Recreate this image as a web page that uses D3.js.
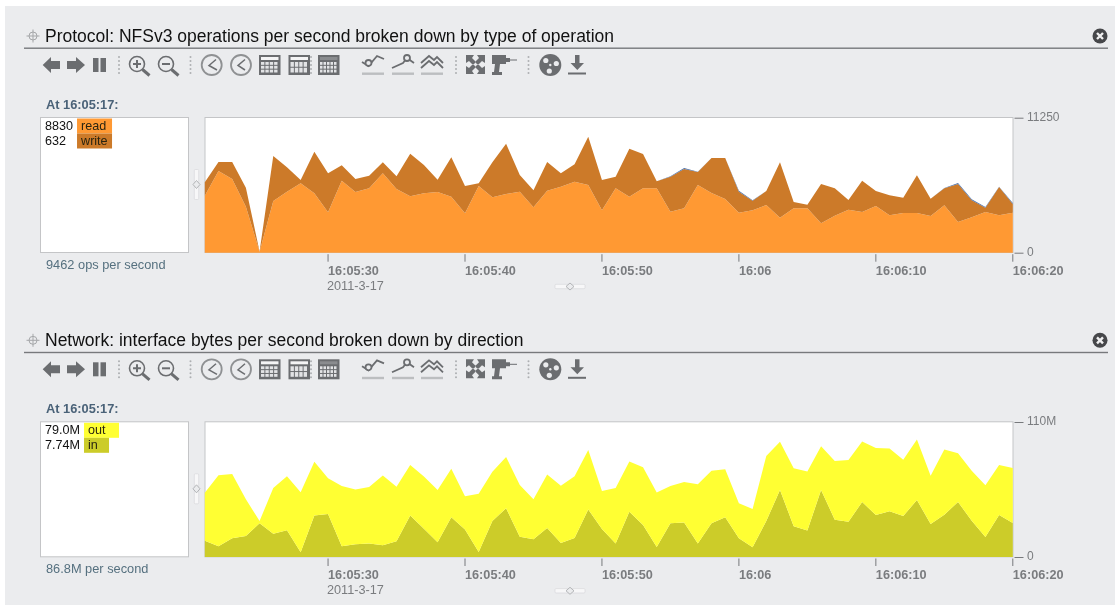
<!DOCTYPE html>
<html>
<head>
<meta charset="utf-8">
<script src="https://cdnjs.cloudflare.com/ajax/libs/d3/7.8.5/d3.min.js"></script>
<style>
html, body { margin: 0; padding: 0; background: #fff; }
svg { display: block; font-family: "Liberation Sans", Arial, sans-serif; filter: blur(0.5px); }
</style>
</head>
<body>
<svg id="chart" width="1116" height="605"></svg>
<script>
// one reading per second, 16:05:21 to 16:06:20
const startTime = new Date(2011, 2, 17, 16, 5, 21);
const secondCount = 60;

const readOps = [4750,6806,6139,3834,80,4306,5084,5778,4945,3361,6000,5056,5361,6612,5306,4695,4945,5056,4667,3278,5556,4611,4889,5084,3778,5167,5500,5917,5639,3528,5361,4667,5361,5361,3417,3695,5639,4973,4473,3334,3528,3973,2917,3695,3695,2445,3084,3584,3389,3889,3111,3306,3306,3056,3945,2556,2945,3389,3111,3334];
const writeOps = [1111,750,1417,1583,30,3750,2028,278,3473,3250,1278,1083,1056,917,1056,3556,2361,1028,3278,2278,222,2917,4195,1389,1417,2389,1111,1445,4028,2528,972,4000,2861,583,2917,3278,1083,2917,3417,1750,806,1167,4611,528,306,3278,2278,806,2611,1250,1667,1278,3139,1445,1417,3167,1417,361,2361,722];
const otherOps = [0,0,0,0,0,0,0,0,0,0,0,0,0,0,0,0,0,0,0,0,0,0,0,0,0,0,0,0,0,0,0,0,0,0,30,90,20,0,0,70,30,0,0,0,0,0,0,0,0,0,0,0,0,0,30,90,90,50,30,90];

const bytesIn = [13.3,8.7,15.2,17.1,27.4,19.0,21.7,3.8,33.9,35.0,8.7,10.3,11.1,9.5,12.8,33.9,23.1,12.0,32.3,22.5,4.1,29.3,39.7,16.6,14.4,23.6,11.4,15.5,38.8,22.8,10.9,36.9,26.1,8.1,27.4,28.2,10.9,27.4,32.3,15.2,7.9,29.3,54.6,25.0,21.5,54.6,30.4,28.8,44.8,34.2,37.2,33.4,46.4,26.9,34.5,44.8,29.6,16.3,34.2,27.7];
const bytesOut = [39.1,57.9,52.4,29.9,1.9,37.2,44.0,48.9,43.7,29.1,49.2,44.8,45.9,57.0,44.5,41.0,42.4,42.6,39.7,26.9,47.5,40.2,41.8,42.1,32.6,43.7,46.7,50.2,48.3,31.0,45.4,41.0,47.0,44.5,30.4,32.9,48.3,42.9,39.1,28.5,31.2,53.0,39.4,47.3,48.1,35.6,47.8,50.2,49.4,54.6,51.3,45.9,49.4,39.4,53.0,39.7,40.7,42.1,40.7,44.8];

const timeTicks = ["16:05:30","16:05:40","16:05:50","16:06","16:06:10","16:06:20"];

const panels = [
  {
    top: 0,
    title: "Protocol: NFSv3 operations per second broken down by type of operation",
    maxValue: 11250,
    maxLabel: "11250",
    layers: [
      { name: "read", values: readOps, color: "#ff9933" },
      { name: "write", values: writeOps, color: "#cc7a29" },
      { name: "other", values: otherOps, color: "#4a6fa8" }
    ],
    legend: [
      { name: "read", shown: "8830", color: "#ff9933" },
      { name: "write", shown: "632", color: "#cc7a29" }
    ],
    total: "9462 ops per second"
  },
  {
    top: 304.3,
    title: "Network: interface bytes per second broken down by direction",
    maxValue: 110,
    maxLabel: "110M",
    layers: [
      { name: "in", values: bytesIn, color: "#cccc29" },
      { name: "out", values: bytesOut, color: "#ffff33" }
    ],
    legend: [
      { name: "out", shown: "79.0M", color: "#ffff33" },
      { name: "in", shown: "7.74M", color: "#cccc29" }
    ],
    total: "86.8M per second"
  }
];

const svg = d3.select("#chart");
const iconColor = "#6b6d70";
const panelBg = "#ebecee";

svg.append("rect").attr("x", 5).attr("y", 6).attr("width", 1110).attr("height", 599).attr("fill", panelBg);

const x = d3.scaleTime()
  .domain([startTime, d3.timeSecond.offset(startTime, secondCount - 1)])
  .range([204.8, 1012.8]);

panels.forEach(drawPanel);

function drawPanel(p) {
  const g = svg.append("g").attr("transform", "translate(0," + p.top + ")");

  // header
  moveIcon(g.append("g").attr("transform", "translate(33,36)"));
  g.append("text").attr("x", 45).attr("y", 41.5).attr("font-size", 17.5).attr("fill", "#111").text(p.title);
  g.append("rect").attr("x", 24).attr("y", 47.5).attr("width", 1084).attr("height", 1.4).attr("fill", "#77797c");
  closeIcon(g.append("g").attr("transform", "translate(1100,36)"));

  drawToolbar(g);

  g.append("text").attr("x", 46).attr("y", 108.5).attr("font-size", 12.8).attr("font-weight", "bold")
    .attr("fill", "#4a6278").text("At 16:05:17:");

  // legend box
  g.append("rect").attr("x", 40.5).attr("y", 117.5).attr("width", 148).attr("height", 135)
    .attr("fill", "#fff").attr("stroke", "#c4c5c7");
  const valueTexts = p.legend.map((d, i) =>
    g.append("text").attr("x", 45).attr("y", 130 + i * 15).attr("font-size", 12.6).attr("fill", "#111").text(d.shown));
  const swatchX = 45 + d3.max(valueTexts, t => t.node().getComputedTextLength()) + 4;
  p.legend.forEach((d, i) => {
    const rowY = 118.5 + i * 15;
    g.append("rect").attr("x", swatchX).attr("y", rowY).attr("width", d.name === "in" ? 25 : 35).attr("height", 15).attr("fill", d.color);
    g.append("text").attr("x", swatchX + 4).attr("y", rowY + 11.5).attr("font-size", 12.6).attr("fill", "#2a2410").text(d.name);
  });
  g.append("text").attr("x", 46).attr("y", 269).attr("font-size", 12.8).attr("fill", "#55707f").text(p.total);

  drawHandle(g, 196.5, 184.5, true);
  drawHandle(g, 570, 286.5, false);

  // plot
  const y = d3.scaleLinear().domain([0, p.maxValue]).range([252.7, 117.7]);
  g.append("rect").attr("x", 205).attr("y", 117.5).attr("width", 808).attr("height", 135)
    .attr("fill", "#fff").attr("stroke", "#c4c5c7");

  const rows = d3.range(secondCount).map(i => {
    const row = { time: d3.timeSecond.offset(startTime, i) };
    p.layers.forEach(l => { row[l.name] = l.values[i]; });
    return row;
  });
  const stacked = d3.stack().keys(p.layers.map(l => l.name))(rows);
  const area = d3.area()
    .x(d => x(d.data.time))
    .y0(d => y(d[0]))
    .y1(d => y(d[1]));

  g.selectAll(".layer")
    .data(stacked)
    .enter()
    .append("path")
    .attr("class", "layer")
    .attr("d", area)
    .attr("fill", (d, i) => p.layers[i].color);

  // time axis
  const tickTimes = d3.range(6).map(i => new Date(2011, 2, 17, 16, 5, 30 + i * 10));
  const xAxis = d3.axisBottom(x).tickValues(tickTimes).tickFormat((d, i) => timeTicks[i]).tickSize(7.5);
  const xg = g.append("g").attr("transform", "translate(-0.5,254.2)").call(xAxis);
  xg.select(".domain").remove();
  xg.selectAll(".tick line").attr("stroke", "#77797c");
  xg.selectAll(".tick text")
    .attr("text-anchor", "start")
    .attr("y", 20.5)
    .attr("dy", 0)
    .attr("font-size", 12.7)
    .attr("font-family", "'Liberation Sans', Arial, sans-serif")
    .attr("font-weight", "bold")
    .attr("fill", "#7a7c7f");
  g.append("text").attr("x", 327).attr("y", 290).attr("font-size", 12.7).attr("fill", "#7a7c7f").text("2011-3-17");

  // value axis
  const yAxis = d3.axisRight(y).tickValues([0, p.maxValue]).tickFormat(d => d === 0 ? "0" : p.maxLabel).tickSize(9).tickPadding(3.5);
  const yg = g.append("g").attr("transform", "translate(1014.5,0)").call(yAxis);
  yg.select(".domain").remove();
  yg.selectAll(".tick line").attr("stroke", "#77797c");
  yg.selectAll(".tick text")
    .attr("dy", "0.2em")
    .attr("font-size", 12)
    .attr("font-family", "'Liberation Sans', Arial, sans-serif")
    .attr("fill", "#7a7c7f");
}

function drawToolbar(g) {
  const bar = g.append("g").attr("transform", "translate(0,65)").attr("fill", iconColor).attr("stroke", "none");

  // back, forward, pause
  bar.append("path").attr("d", "M42.7 0 L51 -8 V-4 H60 V4 H51 V8 Z");
  bar.append("path").attr("d", "M85 0 L76 -8 V-4 H67 V4 H76 V8 Z");
  bar.append("rect").attr("x", 93).attr("y", -7).attr("width", 5.5).attr("height", 14);
  bar.append("rect").attr("x", 100.5).attr("y", -7).attr("width", 5.5).attr("height", 14);

  [119, 190.5, 311, 456, 528.5].forEach(sx => dots(bar, sx));

  magnifier(bar, 137, true);
  magnifier(bar, 166, false);
  clock(bar, 211.7, "M216 -5.5 L209 0.5 L217 5");
  clock(bar, 241, "M245 -5.5 L238 0.5 L245 5");
  calc(bar, 259, 3, 4, true);
  calc(bar, 288.5, 2, 4, true);
  calc(bar, 318, 3, 5, false);

  // line style buttons
  lineIcon(bar, 362, "M0 -3 L6.5 1 L15 -9 L22 -6", 6.5, -2);
  lineIcon(bar, 392, "M0 3 L11 -2 L15 -7 L22 -2", 15, -7);
  lineIcon(bar, 421, null, 0, 0);

  // fullscreen arrows
  bar.append("path").attr("d", "M466 -10 H474 L472 -7 L476 -3 L473 0 L469 -4 L466 -2 Z M485 -10 H477 L479 -7 L475 -3 L478 0 L482 -4 L485 -2 Z M466 9 H474 L472 6 L476 2 L473 -1 L469 3 L466 1 Z M485 9 H477 L479 6 L475 2 L478 -1 L482 3 L485 1 Z");
  // drill
  bar.append("path").attr("d", "M492 -10 H506 V-7 H510 V-3 H506 V-1 H500 L499 7 H502 V10 H492 V7 H494 L495 -1 H492 Z");
  bar.append("path").attr("d", "M510 -5 H517").attr("stroke", iconColor).attr("stroke-width", 1);

  // film reel
  const reel = bar.append("g").attr("transform", "translate(550.3,0)");
  reel.append("circle").attr("r", 11);
  [[-4.5, -4.5], [6, -1.5], [-1, 6], [0, 0]].forEach((c, i) => {
    reel.append("circle").attr("cx", c[0]).attr("cy", c[1]).attr("r", i === 3 ? 1.2 : 2.6).attr("fill", panelBg);
  });

  // download arrow
  bar.append("path").attr("d", "M575 -10 H579.5 V-2 H584 L577.3 5 L570.5 -2 H575 Z");
  bar.append("rect").attr("x", 568).attr("y", 7.5).attr("width", 18).attr("height", 2);
}

function dots(bar, sx) {
  d3.range(5).forEach(i => {
    bar.append("circle").attr("cx", sx).attr("cy", -8 + i * 4).attr("r", 1).attr("fill", "#adafb1");
  });
}

function magnifier(bar, cx, plus) {
  const m = bar.append("g").attr("transform", "translate(" + cx + ",-1)").attr("fill", "none").attr("stroke", iconColor);
  m.append("circle").attr("r", 7.5).attr("stroke-width", 1.6);
  m.append("path").attr("d", "M5.5 5.5 L12.5 11.5").attr("stroke-width", 3);
  m.append("path").attr("d", plus ? "M-4 0 H4 M0 -4 V4" : "M-4 0 H4").attr("stroke-width", 2);
}

function clock(bar, cx, hands) {
  bar.append("circle").attr("cx", cx).attr("cy", 0).attr("r", 10).attr("fill", "none").attr("stroke", "#8f9193").attr("stroke-width", 1.8);
  bar.append("path").attr("d", hands).attr("fill", "none").attr("stroke", iconColor).attr("stroke-width", 1.5);
}

function calc(bar, left, rowCount, colCount, lightHead) {
  bar.append("rect").attr("x", left).attr("y", -10).attr("width", 21.5).attr("height", 20).attr("fill", iconColor);
  bar.append("rect").attr("x", left + 2).attr("y", -8).attr("width", 17.5).attr("height", 3).attr("fill", lightHead ? "#f4f4f5" : "#8a8c8f");
  const cellH = 11.5 / rowCount;
  const cellW = 17.5 / colCount;
  d3.range(rowCount).forEach(r => {
    d3.range(colCount).forEach(c => {
      bar.append("rect").attr("x", left + 2 + c * cellW).attr("y", -3 + r * cellH).attr("width", cellW - 1).attr("height", cellH - 1).attr("fill", "#e2e3e5");
    });
  });
}

function lineIcon(bar, left, d, cx, cy) {
  const ic = bar.append("g").attr("transform", "translate(" + left + ",0)").attr("fill", "none").attr("stroke", iconColor).attr("stroke-width", 1.8);
  if (d) {
    ic.append("path").attr("d", d);
    ic.append("circle").attr("cx", cx).attr("cy", cy).attr("r", 3).attr("fill", panelBg);
  } else {
    ic.append("path").attr("d", "M0 -2 L8 -9 L13 -5 L16 -8 L22 -2");
    ic.append("path").attr("d", "M0 3 L8 -4 L13 0 L16 -3 L22 3");
  }
  bar.append("rect").attr("x", left).attr("y", 7.5).attr("width", 22).attr("height", 2.4).attr("fill", "#bcbec0");
}

function moveIcon(sel) {
  sel.append("circle").attr("r", 4).attr("fill", "none").attr("stroke", "#a5a7a9").attr("stroke-width", 1);
  sel.append("path").attr("d", "M-6.5 0 H6.5 M0 -6.5 V6.5").attr("stroke", "#a5a7a9").attr("stroke-width", 1);
}

function closeIcon(sel) {
  sel.append("circle").attr("r", 7.5).attr("fill", "#46474a");
  sel.append("path").attr("d", "M-3 -3 L3 3 M3 -3 L-3 3").attr("stroke", "#f0f0f1").attr("stroke-width", 2.4);
}

function drawHandle(g, hx, hy, vertical) {
  const h = g.append("g").attr("transform", "translate(" + hx + "," + hy + ")" + (vertical ? "" : " rotate(90)"));
  h.append("rect").attr("x", -2.2).attr("y", -15).attr("width", 4.4).attr("height", 30).attr("rx", 1).attr("fill", "#f7f7f8").attr("stroke", "#d3d4d6").attr("stroke-width", 0.6);
  h.append("path").attr("d", "M-3.5 0 L0 -4 L3.5 0 L0 4 Z").attr("fill", panelBg).attr("stroke", "#a5a7a9").attr("stroke-width", 0.8);
}
</script>
</body>
</html>
